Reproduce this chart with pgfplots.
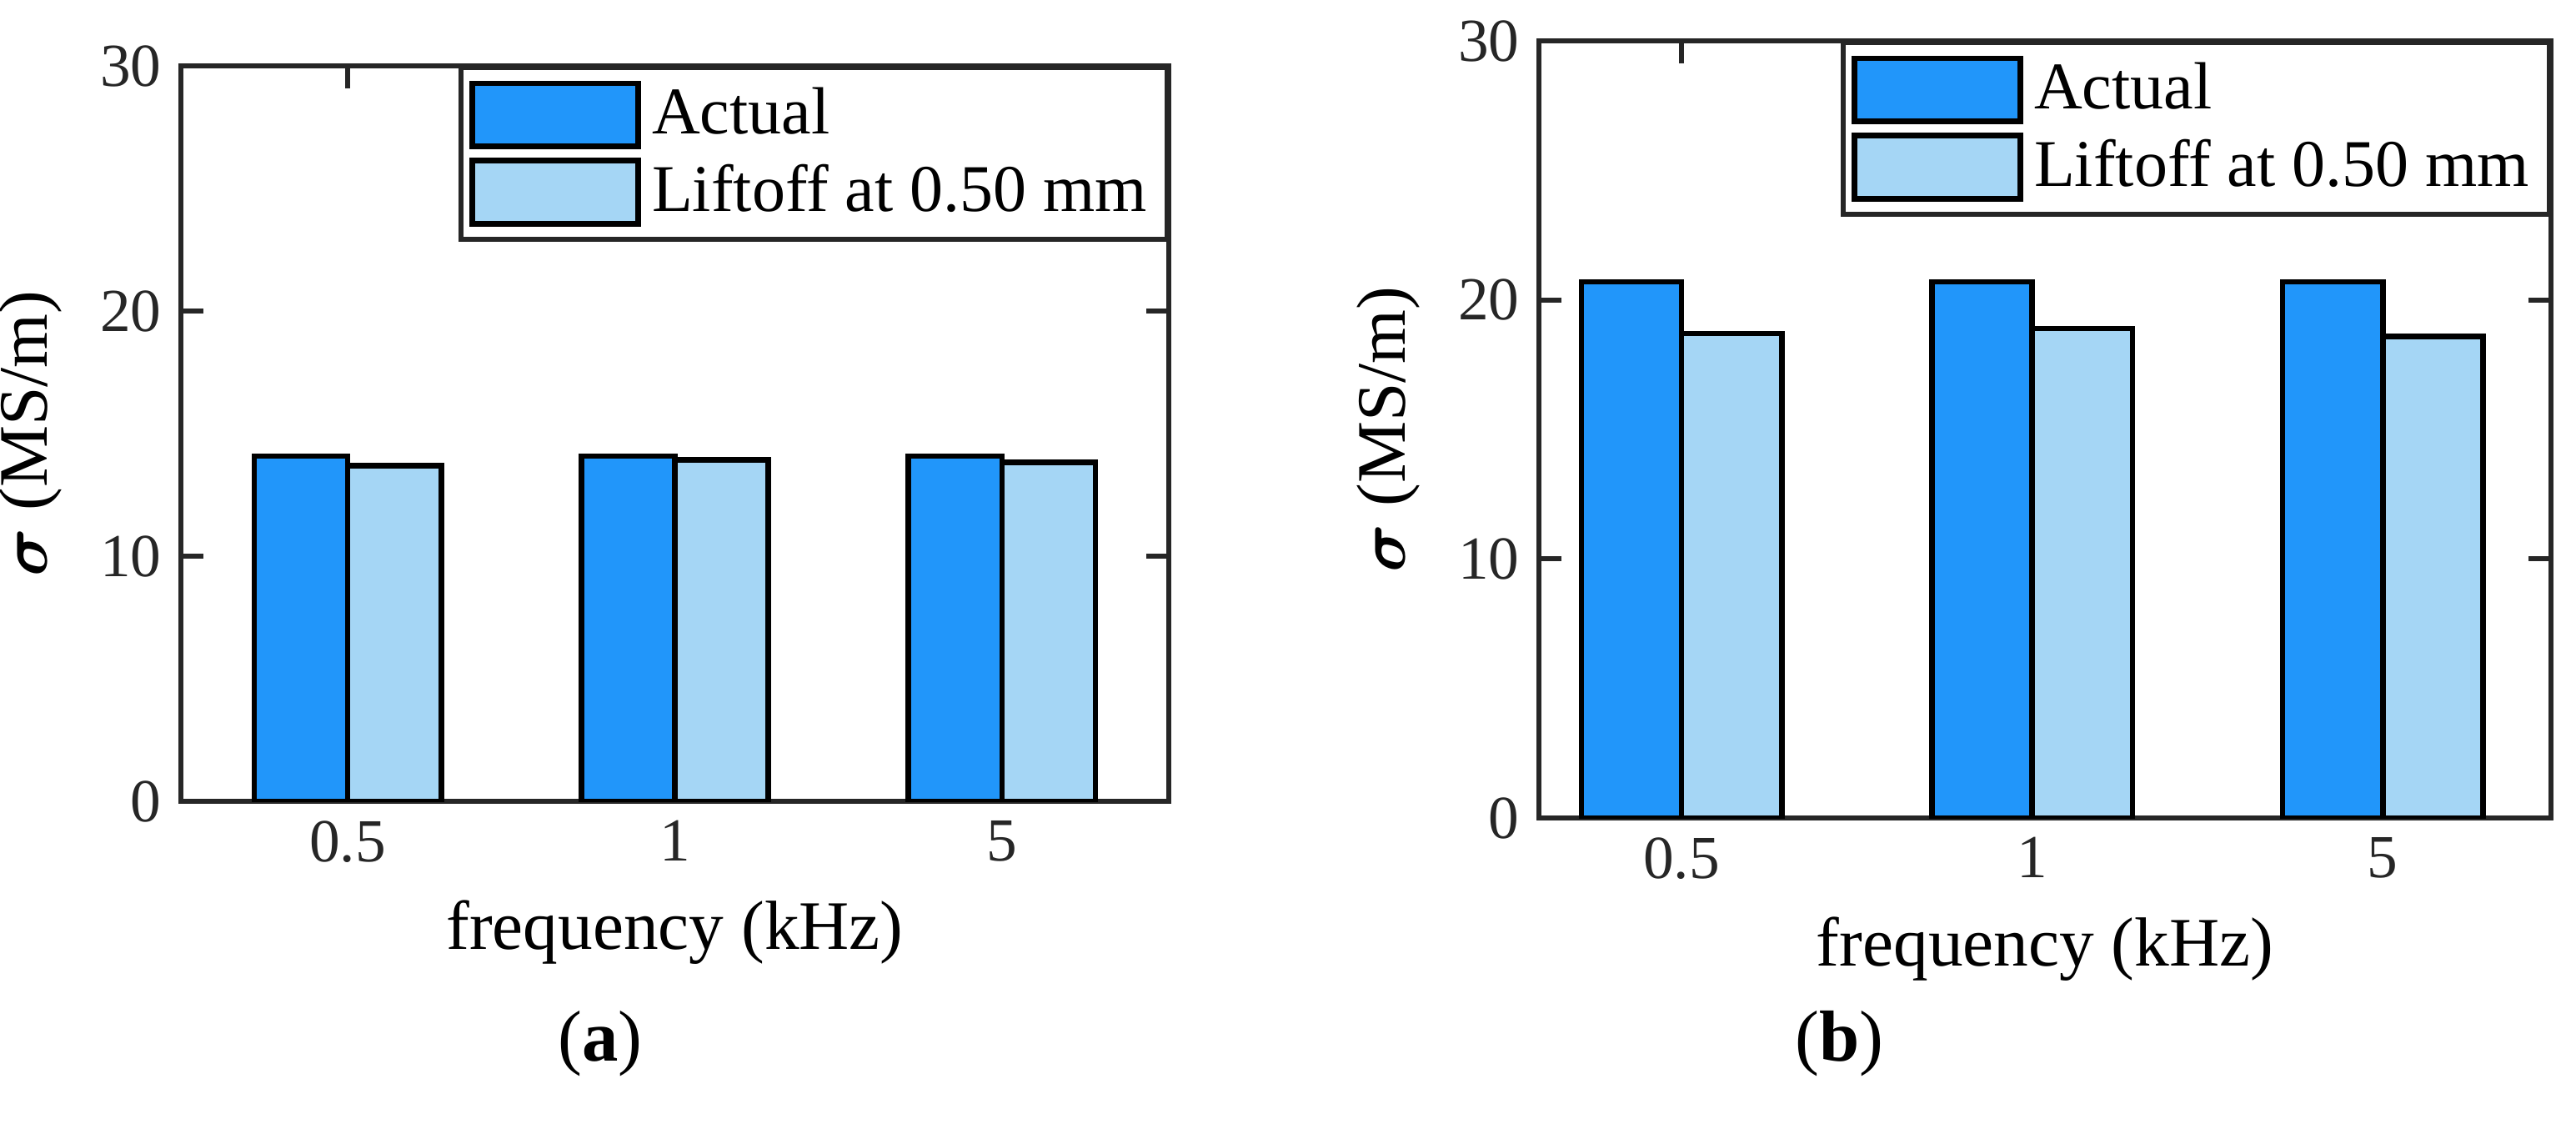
\documentclass[border=0pt]{standalone}
\usepackage{pgfplots}
\pgfplotsset{compat=1.18}
\usepackage{fontspec}
\setmainfont{Liberation Serif}
\usepackage{amsmath}
\definecolor{dblue}{RGB}{33,150,250}
\definecolor{lblue}{RGB}{165,214,245}
\definecolor{axgray}{RGB}{38,38,38}
\pgfplotsset{
  myax/.style={
    scale only axis, ybar=0pt, bar width=0.286,
    xmin=-0.51, xmax=2.51, ymin=0, ymax=30,
    xtick={0,1,2}, xticklabels={0.5,1,5},
    ytick={0,10,20,30},
    tick align=inside, tick pos=both,
    major tick length=4pt,
    axis line style={axgray, line width=0.9pt},
    every tick/.style={axgray, line width=0.9pt},
    /pgf/number format/assume math mode=true,
    tick label style={font=\fontsize{11}{12}\selectfont, text=axgray},
    label style={font=\fontsize{12.5}{14}\selectfont},
    xlabel={frequency (kHz)},
    ylabel={$\boldsymbol{\sigma}$ (MS/m)},
    legend style={font=\fontsize{12}{13}\selectfont, draw=axgray, line width=0.8pt,
      anchor=north east, at={(1,1)}, inner sep=1.5pt, row sep=0pt,
      cells={anchor=west}},
    legend image code/.code={\draw[#1, line width=1pt] (0cm,-0.2cm) rectangle (1.05cm,0.2cm);},
    legend cell align=left,
  }
}
\begin{document}
\begin{tikzpicture}[x=1pt,y=1pt]
\path[use as bounding box] (0,0) rectangle (463.5,204.75);
\begin{axis}[myax, at={(32.55pt,60.6pt)}, anchor=south west, width=177.75pt, height=132.3pt]
\addplot[fill=dblue, draw=black, line width=1pt] coordinates {(0,14.08) (1,14.08) (2,14.08)};
\addplot[fill=lblue, draw=black, line width=1pt] coordinates {(0,13.69) (1,13.93) (2,13.82)};
\legend{Actual, Liftoff at 0.50 mm}
\end{axis}
\begin{axis}[myax, xmin=-0.407, xmax=2.48, at={(276.9pt,57.6pt)}, anchor=south west, width=182.1pt, height=139.8pt]
\addplot[fill=dblue, draw=black, line width=1pt] coordinates {(0,20.7) (1,20.7) (2,20.7)};
\addplot[fill=lblue, draw=black, line width=1pt] coordinates {(0,18.7) (1,18.9) (2,18.6)};
\legend{Actual, Liftoff at 0.50 mm}
\end{axis}
\node[font=\fontsize{13}{15}\selectfont] at (108,17) {(\textbf{a})};
\node[font=\fontsize{13}{15}\selectfont] at (331,17) {(\textbf{b})};
\end{tikzpicture}
\end{document}
